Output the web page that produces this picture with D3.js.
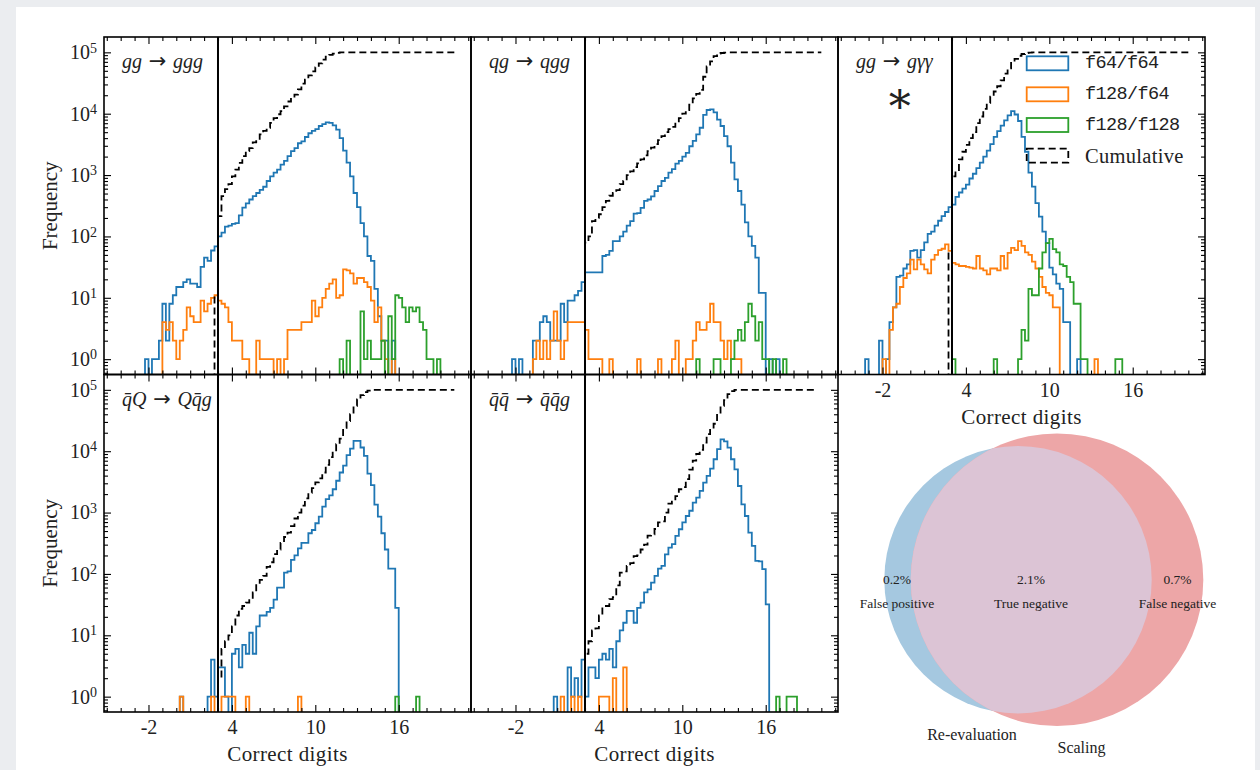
<!DOCTYPE html>
<html>
<head>
<meta charset="utf-8">
<script src="https://cdnjs.cloudflare.com/ajax/libs/d3/7.8.5/d3.min.js"></script>
<style>
  body { margin: 0; background: #ebedf0; }
  svg { display: block; }
  text { font-family: "Liberation Serif", serif; fill: #222; }
</style>
</head>
<body>
<script>
// histogram bins: 0.25 wide, edges from -4 to 20 (bin k covers [-4+0.25k, -3.75+0.25k])
const binLo = -4, binWidth = 0.25;
const threshold = 3;

// gg -> ggg
const gggF64From = 7;
const gggF64 = [1,0,1,1,2,8,2,8,11,15,15,18,20,17,17,15,32,45,40,59,69,
  100,115,145,150,160,165,220,295,345,400,455,510,575,645,800,950,1100,1230,1480,1700,2040,2450,2750,3300,3550,
  4170,4800,5250,5600,6300,6750,7200,7100,6450,5500,4000,2500,1600,950,510,300,165,100,48,40,14,5,2,2,0,2];
const gggF128F64From = 12;
const gggF128F64 = [4,3,4,2,1,2,3,7,5,4,4,9,6,8,10,11,9,8,7,4,2,2,2,1,1,0,0,2,1,1,1,1,0,1,0,1,3,3,3,3,
  4,4,4,9,5,7,10,14,17,20,10,11,29,28,25,17,21,21,18,15,9,4,7,2,1,0,1];
const gggF128From = 63;
const gggF128 = [1,0,2,0,0,0,6,1,2,1,1,1,2,0,5,1,11,10,7,4,7,6,7,4,3,1,1,0,1];
const gggCumFrom = 27;
const gggCum = [11,215,455,590,710,950,1230,1580,2040,2450,2750,3400,3900,4600,5250,5900,7100,8500,9800,11000,
  13200,15800,18200,20400,25000,31000,36000,42000,49000,57000,66000,76000,85000,91000,95000,98000,99500,
  100000,100000,100000,100000,100000,100000,100000,100000,100000,100000,100000,100000,100000,100000,100000,100000,
  100000,100000,100000,100000,100000,100000,100000,100000,100000,100000,100000,100000,100000,100000,100000,100000];

// qg -> qgg
const qggF64From = 7;
const qggF64 = [1,0,1,0,0,0,2,2,4,5,4,2,2,2,8,4,9,9,11,13,18,26,26,26,26,26,48,50,58,84,84,100,120,150,178,
  235,240,292,380,400,450,550,660,800,900,1100,1250,1540,1700,2000,2300,2950,3600,4600,5900,9600,11500,11800,
  10500,8000,6300,4300,2950,1600,850,550,330,170,100,70,45,12,12,0,1,0,1];
const qggF128F64From = 13;
const qggF128F64 = [1,2,1,2,1,2,6,2,1,2,4,4,4,4,4,3,1,1,1,1,0,0,1,0,0,0,0,0,0,0,
  1,0,0,0,0,0,1,0,0,0,1,2,0,0,1,1,2,4,3,3,4,8,4,4,2,1,2,1,1,1];
const qggF128From = 60;
const qggF128 = [1,0,0,0,0,1,1,0,0,0,1,2,3,2,4,8,5,2,4,1,1,0,1,0,0,1];
const qggCumFrom = 28;
const qggCum = [79,100,178,200,230,300,380,460,510,570,710,800,1000,1150,1350,1550,1800,2100,2450,2800,3200,
  3700,4300,5000,5600,6100,7200,8500,10000,11500,14000,17800,21000,24500,40000,59000,71000,87000,95000,97500,99000,
  100000,100000,100000,100000,100000,100000,100000,100000,100000,100000,100000,100000,100000,100000,100000,100000,
  100000,100000,100000,100000,100000,100000,100000,100000,100000,100000,100000];

// gg -> g gamma gamma
const ggaF64From = 3;
const ggaF64 = [1,0,0,0,2,0,1,4,7,22,23,30,35,58,60,45,60,80,110,120,150,180,215,250,300,330,440,520,600,700,
  880,1050,1300,1600,2000,2500,3200,4200,5200,6400,7800,9400,11000,9700,7600,4200,2400,1100,650,350,210,120,78,
  31,24,17,14,4,4,0,0,1];
const ggaF128F64From = 8;
const ggaF128F64 = [1,0,3,7,8,15,21,25,42,29,42,35,29,25,42,50,60,63,74,58,37,35,33,33,32,31,30,48,30,28,
  24,30,30,28,48,30,54,65,60,84,70,55,50,39,30,22,15,12,11,7,7,0,0,0,0,0,0,0,0,0,0,1];
const ggaF128From = 28;
const ggaF128 = [1,0,0,0,0,0,0,0,0,0,0,0,1,0,0,0,0,0,0,1,3,2,14,11,11,30,55,78,91,62,55,35,33,22,18,8,8,1,1,
  0,0,0,0,0,0,0,0,1,1];
const ggaCumFrom = 27;
const ggaCum = [55,950,1150,1800,2400,3100,4000,5000,7000,9000,12000,15000,19000,23000,28000,35000,45000,55000,
  67000,78000,88000,94000,97000,99000,99700,
  100000,100000,100000,100000,100000,100000,100000,100000,100000,100000,100000,100000,100000,100000,100000,
  100000,100000,100000,100000,100000,100000,100000,100000,100000,100000,100000,100000,100000,100000,100000,
  100000,100000,100000,100000,100000,100000,100000,100000,100000,100000,100000,100000,100000,100000];

// qbar Q -> Q qbar g
const qQF64From = 17;
const qQF64 = [1,0,0,0,0,0,0,0,1,4,1,3,3,1,0,5,6,3,7,5,11,5,14,21,21,24,28,38,60,60,105,110,170,200,260,
  320,320,460,520,670,860,1250,1650,1900,2400,3300,4500,5800,8600,11000,14700,14700,11500,8400,4300,2800,1350,
  860,460,250,122,122,28];
const qQF128F64From = 17;
const qQF128F64 = [1,0,0,0,0,0,0,0,0,1,0,0,1,1,1,1,0,0,0,1,0,0,0,0,0,0,0,0,0,0,0,0,0,0,1];
const qQF128From = 79;
const qQF128 = [1,0,0,0,0,0,1];
const qQCumFrom = 28;
const qQCum = [2,6,8,10,14,21,27,30,34,39,50,68,80,93,130,155,210,250,320,400,470,600,800,1000,1300,1700,
  2100,2500,3100,3600,4500,6000,8000,10000,13000,16000,24000,31000,40000,55000,70000,82000,92000,97000,
  100000,100000,100000,100000,100000,100000,100000,100000,100000,100000,100000,100000,100000,100000,100000,
  100000,100000,100000,100000,100000,100000,100000,100000,100000];

// qbar qbar -> qbar qbar g
const qqF64From = 19;
const qqF64 = [1,0,0,0,3,1,2,1,4,1,3,3,2,4,5,4,6,3,8,12,16,25,25,16,28,34,50,56,72,93,
  122,135,209,269,305,417,535,690,880,1070,1450,1750,2250,3070,3950,5200,7400,10800,15600,14500,
  11400,7400,5070,2710,1360,880,470,286,163,160,120,32];
const qqF128F64From = 21;
const qqF128F64 = [1,0,0,1,0,1,0,0,0,0,0,1,1,1,0,2,0,0,3];
const qqF128From = 83;
const qqF128 = [1,0,0,1,1,1];
const qqCumFrom = 28;
const qqCum = [5,8,12,13,21,30,30,39,42,65,105,110,135,150,195,200,250,300,420,440,540,690,720,1000,1400,1500,
  1860,2400,2600,3500,5000,7000,9000,10500,13800,19000,23000,28000,41000,55000,68000,85000,95000,
  100000,100000,100000,100000,100000,100000,100000,100000,100000,100000,100000,100000,100000,100000,100000,
  100000,100000,100000,100000,100000,100000,100000,100000,100000];

const legendLabels = ["f64/f64", "f128/f64", "f128/f128", "Cumulative"];
const seriesColors = ["#1f77b4", "#ff7f0e", "#2ca02c"];
const xMajorTicks = [-2, 4, 10, 16];
const yMajorTicks = [1, 10, 100, 1000, 10000, 100000];

const vennShares = ["0.2%", "2.1%", "0.7%"];
const vennLabels = ["False positive", "True negative", "False negative"];
const vennSets = ["Re-evaluation", "Scaling"];

// ---------------------------------------------------------------
const W = 1260, H = 770;
const colX = [104, 471, 838], rowY = [37, 374.5], pw = 367, ph = 337.5;
const xDomain = [-5.2, 21.2];
const yDomain = [Math.pow(10, -0.25), Math.pow(10, 5.25)];

const svg = d3.select("body").append("svg").attr("width", W).attr("height", H);
const defs = svg.append("defs");
svg.append("rect").attr("x", 16).attr("y", 7).attr("width", 1239).attr("height", H - 7).attr("fill", "#fff");

const panels = [
  {col: 0, row: 0, title: [["gg", 1], [" → ", 0], ["ggg", 1]],
   hists: [[gggF64From, gggF64], [gggF128F64From, gggF128F64], [gggF128From, gggF128]], cum: [gggCumFrom, gggCum],
   yLeft: true, yRight: false, xLabels: false},
  {col: 1, row: 0, title: [["qg", 1], [" → ", 0], ["qgg", 1]],
   hists: [[qggF64From, qggF64], [qggF128F64From, qggF128F64], [qggF128From, qggF128]], cum: [qggCumFrom, qggCum],
   yLeft: false, yRight: false, xLabels: false},
  {col: 2, row: 0, title: [["gg", 1], [" → ", 0], ["gγγ", 1]],
   hists: [[ggaF64From, ggaF64], [ggaF128F64From, ggaF128F64], [ggaF128From, ggaF128]], cum: [ggaCumFrom, ggaCum],
   yLeft: false, yRight: true, xLabels: true, star: true, legend: true},
  {col: 0, row: 1, title: [["q\u0304Q", 1], [" → ", 0], ["Qq\u0304g", 1]],
   hists: [[qQF64From, qQF64], [qQF128F64From, qQF128F64], [qQF128From, qQF128]], cum: [qQCumFrom, qQCum],
   yLeft: true, yRight: false, xLabels: true},
  {col: 1, row: 1, title: [["q\u0304q\u0304", 1], [" → ", 0], ["q\u0304q\u0304g", 1]],
   hists: [[qqF64From, qqF64], [qqF128F64From, qqF128F64], [qqF128From, qqF128]], cum: [qqCumFrom, qqCum],
   yLeft: false, yRight: true, xLabels: true}
];

const edge = k => binLo + k * binWidth;
const line = d3.line();

function stepPoints(from, counts, x, y, bottom, dropAtEnd) {
  const yv = c => c > 0 ? y(c) : bottom;
  const pts = [[x(edge(from)), bottom]];
  counts.forEach((c, i) => {
    pts.push([x(edge(from + i)), yv(c)]);
    pts.push([x(edge(from + i + 1)), yv(c)]);
  });
  if (dropAtEnd) pts.push([x(edge(from + counts.length)), bottom]);
  return pts;
}

function styleAxis(g) {
  g.select(".domain").remove();
  g.attr("font-family", null).attr("font-size", null);
  g.selectAll(".tick line").attr("stroke", "#000").attr("stroke-width", 1.1);
  g.selectAll(".tick text").attr("fill", "#222").style("font-size", "20px");
}

const yMinor = [];
for (let e = -1; e <= 5; e++) for (let m = 2; m <= 9; m++) {
  const v = m * Math.pow(10, e);
  if (v > yDomain[0] && v < yDomain[1]) yMinor.push(v);
}
const xMinor = d3.range(-5, 22).filter(v => !xMajorTicks.includes(v));

panels.forEach((p, pi) => {
  const x0 = colX[p.col], y0 = rowY[p.row];
  const x = d3.scaleLinear().domain(xDomain).range([x0, x0 + pw]);
  const y = d3.scaleLog().domain(yDomain).range([y0 + ph, y0]);
  const bottom = y0 + ph + 6;

  defs.append("clipPath").attr("id", "clip" + pi)
    .append("rect").attr("x", x0).attr("y", y0).attr("width", pw).attr("height", ph);
  const plot = svg.append("g").attr("clip-path", `url(#clip${pi})`);

  p.hists.forEach(([from, counts], si) => {
    plot.append("path")
      .attr("d", line(stepPoints(from, counts, x, y, bottom, true)))
      .attr("fill", "none").attr("stroke", seriesColors[si]).attr("stroke-width", 1.8);
  });
  plot.append("path")
    .attr("d", line(stepPoints(p.cum[0], p.cum[1], x, y, bottom, false)))
    .attr("fill", "none").attr("stroke", "#000").attr("stroke-width", 1.8).attr("stroke-dasharray", "7,4");

  plot.append("line")
    .attr("x1", x(threshold)).attr("x2", x(threshold)).attr("y1", y0).attr("y2", y0 + ph)
    .attr("stroke", "#000").attr("stroke-width", 2);

  // x ticks (inward) on bottom and top
  svg.append("g").attr("transform", `translate(0,${y0 + ph})`)
    .call(d3.axisBottom(x).tickValues(xMajorTicks).tickSize(-7).tickPadding(8)
      .tickFormat(p.xLabels ? (d => String(d)) : ""))
    .call(styleAxis);
  svg.append("g").attr("transform", `translate(0,${y0 + ph})`)
    .call(d3.axisBottom(x).tickValues(xMinor).tickSize(-4).tickFormat(""))
    .call(styleAxis);
  svg.append("g").attr("transform", `translate(0,${y0})`)
    .call(d3.axisTop(x).tickValues(xMajorTicks).tickSize(-7).tickFormat(""))
    .call(styleAxis);
  svg.append("g").attr("transform", `translate(0,${y0})`)
    .call(d3.axisTop(x).tickValues(xMinor).tickSize(-4).tickFormat(""))
    .call(styleAxis);

  if (p.yLeft) {
    const ay = svg.append("g").attr("transform", `translate(${x0},0)`)
      .call(d3.axisLeft(y).tickValues(yMajorTicks).tickSize(-7).tickPadding(7))
      .call(styleAxis);
    ay.selectAll(".tick text").each(function (d) {
      const t = d3.select(this).text("");
      t.append("tspan").text("10");
      t.append("tspan").attr("dy", "-0.48em").style("font-size", "14px").text(Math.round(Math.log10(d)));
    });
    svg.append("g").attr("transform", `translate(${x0},0)`)
      .call(d3.axisLeft(y).tickValues(yMinor).tickSize(-4).tickFormat(""))
      .call(styleAxis);
    svg.append("text")
      .attr("transform", `translate(50,${y0 + ph / 2}) rotate(-90)`)
      .attr("text-anchor", "middle").attr("dominant-baseline", "central")
      .style("font-size", "21px").text("Frequency");
  }
  if (p.yRight) {
    svg.append("g").attr("transform", `translate(${x0 + pw},0)`)
      .call(d3.axisRight(y).tickValues(yMajorTicks).tickSize(-7).tickFormat(""))
      .call(styleAxis);
    svg.append("g").attr("transform", `translate(${x0 + pw},0)`)
      .call(d3.axisRight(y).tickValues(yMinor).tickSize(-4).tickFormat(""))
      .call(styleAxis);
  }
  if (p.xLabels) {
    svg.append("text")
      .attr("x", x0 + pw / 2).attr("y", y0 + ph + 42)
      .attr("text-anchor", "middle").attr("dominant-baseline", "central")
      .style("font-size", "21px").style("letter-spacing", "0.4px").text("Correct digits");
  }

  // spines
  svg.append("rect").attr("x", x0).attr("y", y0).attr("width", pw).attr("height", ph)
    .attr("fill", "none").attr("stroke", "#000").attr("stroke-width", 1.6);

  // process label
  const tt = svg.append("text").attr("x", x0 + 18).attr("y", y0 + 31).style("font-size", "20px").attr("fill", "#333");
  p.title.forEach(([s, it]) => {
    const ts = tt.append("tspan").text(s);
    if (it) ts.style("font-style", "italic");
    else ts.style("font-family", "'DejaVu Sans', sans-serif").style("font-size", "21px");
  });

  if (p.star) {
    svg.append("text").attr("x", x0 + 62).attr("y", y0 + 60)
      .attr("text-anchor", "middle").attr("dominant-baseline", "central")
      .style("font-family", "'DejaVu Serif', serif").style("font-size", "44px")
      .attr("fill", "#111").text("\u2217");
  }

  if (p.legend) {
    const lx = 1026.7, rows = [63.3, 94.3, 125, 155.7];
    legendLabels.forEach((lab, i) => {
      const r = svg.append("rect").attr("x", lx).attr("y", rows[i] - 7).attr("width", 41.6).attr("height", 14)
        .attr("fill", "none").attr("stroke-width", 1.8);
      if (i < 3) r.attr("stroke", seriesColors[i]);
      else r.attr("stroke", "#000").attr("stroke-dasharray", "7,4");
      const tx = svg.append("text").attr("x", 1085).attr("y", rows[i]).attr("dominant-baseline", "central")
        .attr("fill", "#222").text(lab);
      if (i < 3) tx.style("font-family", "'Liberation Mono', monospace").style("font-size", "18.5px").style("letter-spacing", "-0.6px");
      else tx.style("font-size", "20.5px").style("letter-spacing", "0.3px");
    });
  }
});

// Venn diagram
const venn = svg.append("g");
const cBlue = {x: 1018, y: 579.7, r: 133.7}, cRed = {x: 1057, y: 579.7, r: 146.3};
defs.append("clipPath").attr("id", "clipRed").append("circle").attr("cx", cRed.x).attr("cy", cRed.y).attr("r", cRed.r);
venn.append("circle").attr("cx", cBlue.x).attr("cy", cBlue.y).attr("r", cBlue.r).attr("fill", "#a5c8e0");
venn.append("circle").attr("cx", cRed.x).attr("cy", cRed.y).attr("r", cRed.r).attr("fill", "#eda6a7");
venn.append("circle").attr("cx", cBlue.x).attr("cy", cBlue.y).attr("r", cBlue.r).attr("fill", "#dcc4d5")
  .attr("clip-path", "url(#clipRed)");

const regionX = [897, 1031, 1177.5];
vennShares.forEach((s, i) => {
  venn.append("text").attr("x", regionX[i]).attr("y", 579.5).attr("text-anchor", "middle")
    .attr("dominant-baseline", "central").style("font-size", "13.5px").attr("fill", "#333").text(s);
  venn.append("text").attr("x", regionX[i]).attr("y", 603).attr("text-anchor", "middle")
    .attr("dominant-baseline", "central").style("font-size", "13.5px").attr("fill", "#333").text(vennLabels[i]);
});
venn.append("text").attr("x", 972).attr("y", 734).attr("text-anchor", "middle").attr("dominant-baseline", "central")
  .style("font-size", "16px").attr("fill", "#333").text(vennSets[0]);
venn.append("text").attr("x", 1081.5).attr("y", 747.3).attr("text-anchor", "middle").attr("dominant-baseline", "central")
  .style("font-size", "16px").attr("fill", "#333").text(vennSets[1]);
</script>
</body>
</html>
